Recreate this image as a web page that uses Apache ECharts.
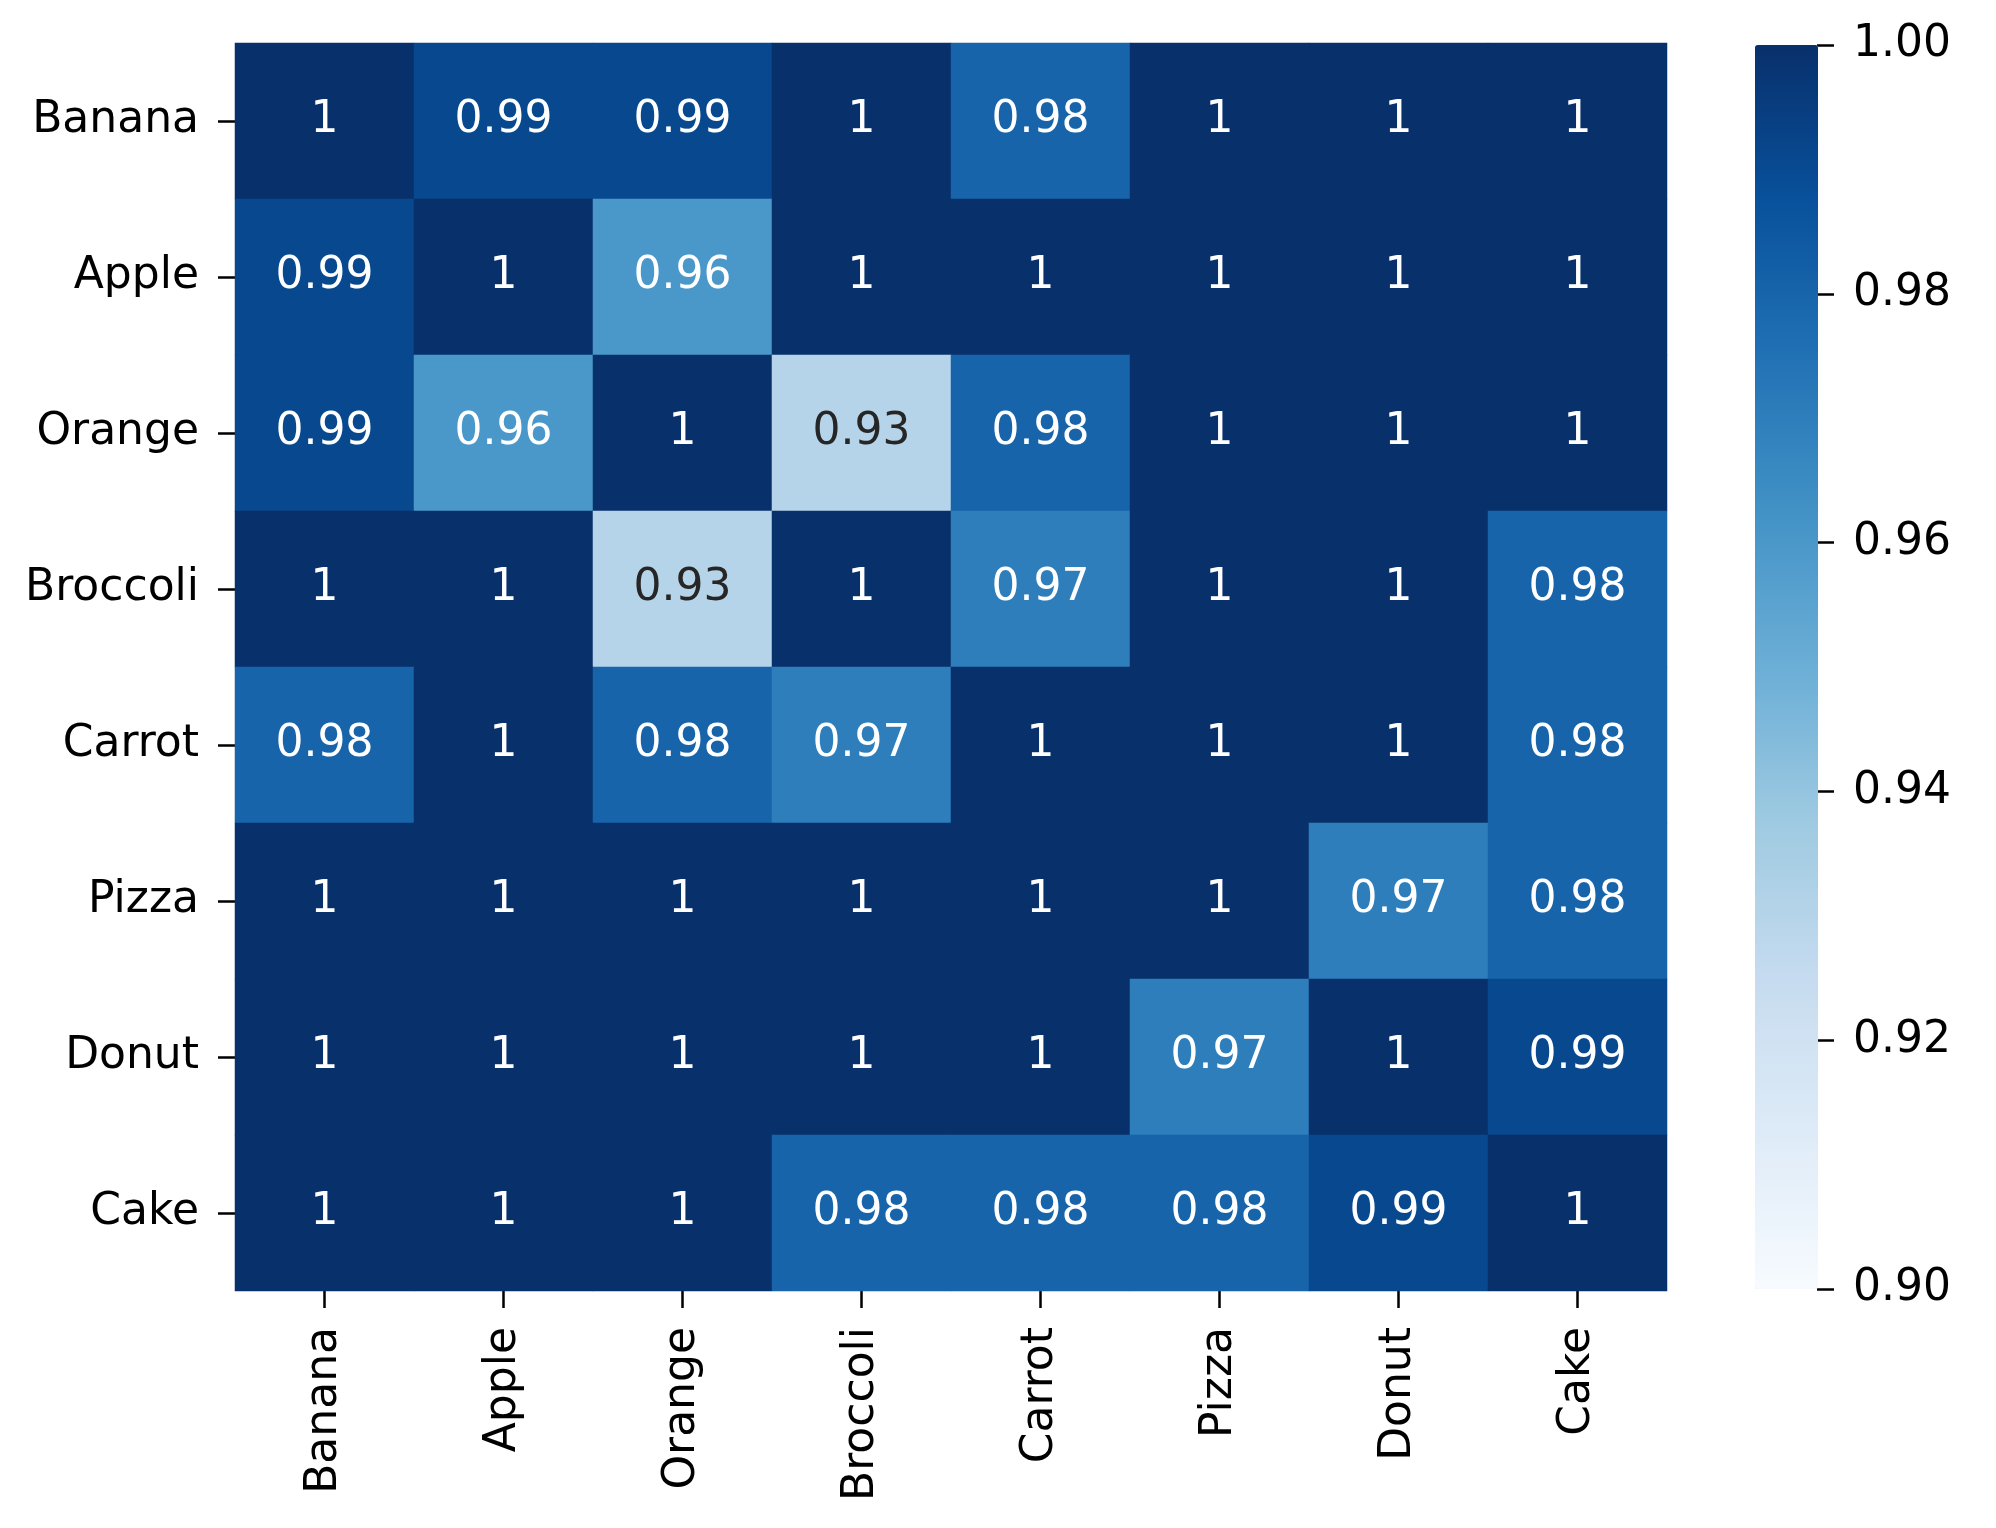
<!DOCTYPE html>
<html>
<head>
<meta charset="utf-8">
<script src="https://cdn.jsdelivr.net/npm/echarts@6/dist/echarts.min.js"></script>
<style>
  html, body { margin: 0; padding: 0; background: #fff; }
  #chart { width: 1996px; height: 1528px; }
</style>
</head>
<body>
<div id="chart"></div>
<script>
var foods = ["Banana", "Apple", "Orange", "Broccoli", "Carrot", "Pizza", "Donut", "Cake"];

// one row per food, columns in the same order as foods
var similarity = [
  [1, 0.991, 0.991, 1, 0.980, 1, 1, 1],
  [0.991, 1, 0.960, 1, 1, 1, 1, 1],
  [0.991, 0.960, 1, 0.930, 0.980, 1, 1, 1],
  [1, 1, 0.930, 1, 0.970, 1, 1, 0.980],
  [0.980, 1, 0.980, 0.970, 1, 1, 1, 0.980],
  [1, 1, 1, 1, 1, 1, 0.970, 0.980],
  [1, 1, 1, 1, 1, 0.970, 1, 0.991],
  [1, 1, 1, 0.980, 0.980, 0.980, 0.991, 1]
];

var colorMin = 0.90;
var colorMax = 1.00;
var colorTickStep = 0.02;

// matplotlib "Blues"
var bluesStops = ["#f7fbff", "#deebf7", "#c6dbef", "#9ecae1", "#6baed6",
                  "#4292c6", "#2171b5", "#08519c", "#08306b"];

var fontFamily = "DejaVu Sans";
var fontSize = 44;

var cells = [];
similarity.forEach(function (row, y) {
  row.forEach(function (v, x) {
    var light = (v - colorMin) / (colorMax - colorMin) < 0.45;
    cells.push({
      value: [x, y, v],
      label: { color: light ? "#262626" : "#ffffff" }
    });
  });
});

function annot(v) {
  return String(parseFloat(v.toPrecision(2)));
}

var chart = echarts.init(document.getElementById("chart"));

chart.setOption({
  animation: false,
  textStyle: { fontFamily: fontFamily },
  grid: [
    // 179 x 156 px cells so the rows meet on whole pixels
    { left: 235, top: 43, width: 1432, height: 1248 },
    { left: 1817, top: 45, width: 1, height: 1244 }
  ],
  xAxis: [
    {
      type: "category",
      gridIndex: 0,
      data: foods,
      axisLine: { show: false },
      axisTick: { show: true, alignWithLabel: true, length: 17, lineStyle: { color: "#000", width: 2.5 } },
      axisLabel: { interval: 0, rotate: 90, margin: 36, fontSize: fontSize, color: "#000", fontFamily: fontFamily },
      splitLine: { show: false }
    },
    {
      type: "value",
      gridIndex: 1,
      show: false,
      min: 0,
      max: 1
    }
  ],
  yAxis: [
    {
      type: "category",
      gridIndex: 0,
      data: foods,
      inverse: true,
      axisLine: { show: false },
      axisTick: { show: true, alignWithLabel: true, length: 17, lineStyle: { color: "#000", width: 2.5 } },
      axisLabel: { interval: 0, margin: 36, fontSize: fontSize, color: "#000", fontFamily: fontFamily },
      splitLine: { show: false }
    },
    {
      type: "value",
      gridIndex: 1,
      position: "right",
      min: colorMin,
      max: colorMax,
      interval: colorTickStep,
      axisLine: { show: false },
      axisTick: { show: true, length: 17, lineStyle: { color: "#000", width: 2.5 } },
      axisLabel: {
        margin: 35,
        fontSize: fontSize,
        color: "#000",
        fontFamily: fontFamily,
        formatter: function (v) { return v.toFixed(2); }
      },
      splitLine: { show: false }
    }
  ],
  visualMap: {
    type: "continuous",
    min: colorMin,
    max: colorMax,
    seriesIndex: 0,
    dimension: 2,
    calculable: false,
    hoverLink: false,
    left: 1755,
    top: 45,
    padding: 0,
    itemWidth: 63,
    itemHeight: 1244,
    text: null,
    showLabel: false,
    inRange: { color: bluesStops }
  },
  series: [
    {
      type: "heatmap",
      xAxisIndex: 0,
      yAxisIndex: 0,
      data: cells,
      label: {
        show: true,
        fontSize: fontSize,
        fontFamily: fontFamily,
        formatter: function (p) { return annot(p.value[2]); }
      },
      itemStyle: { borderWidth: 0 },
      emphasis: { disabled: true }
    }
  ]
});
</script>
</body>
</html>
